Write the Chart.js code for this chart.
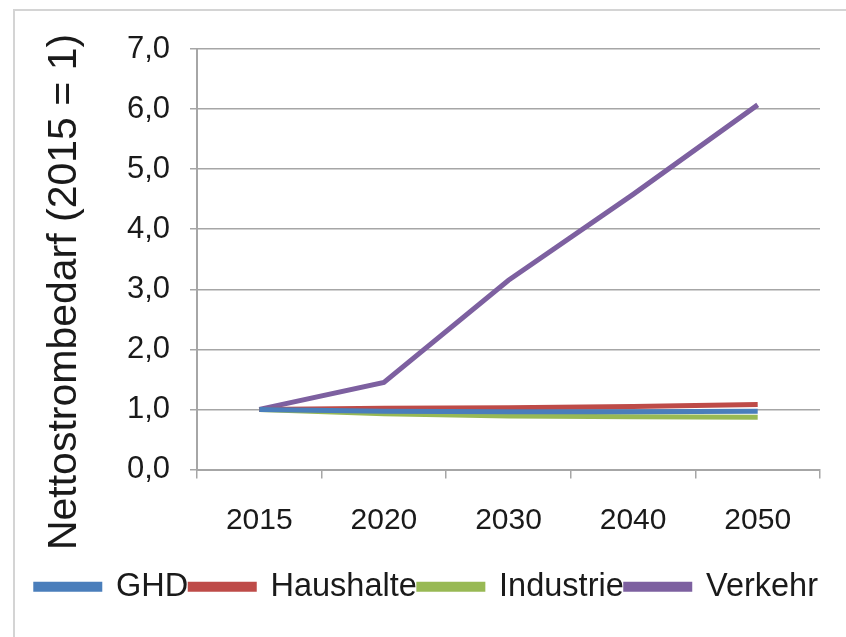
<!DOCTYPE html>
<html>
<head>
<meta charset="utf-8">
<script src="https://cdn.jsdelivr.net/npm/chart.js@4"></script>
<style>
  body { margin: 0; background: #fff; }
  #wrap { width: 846px; height: 637px; }
</style>
</head>
<body>
<div id="wrap"><canvas id="myChart" width="846" height="637"></canvas></div>
<script>
Chart.defaults.font.family = "'Liberation Sans', Arial, sans-serif";
Chart.defaults.color = "#1a1a1a";

const years = ['2015', '2020', '2030', '2040', '2050'];
const ghd = [1.0, 0.97, 0.96, 0.96, 0.97];
const haushalte = [1.0, 1.02, 1.03, 1.05, 1.08];
const industrie = [1.0, 0.93, 0.89, 0.88, 0.87];
const verkehr = [1.0, 1.45, 3.15, 4.58, 6.07];
const yTicks = [0, 1, 2, 3, 4, 5, 6, 7];
const yTitle = 'Nettostrombedarf (2015 = 1)';

function series(label, values, color) {
  return {
    label: label,
    data: values,
    borderColor: color,
    backgroundColor: color,
    borderWidth: 5,
    pointRadius: 0,
    tension: 0,
    fill: false
  };
}

// light frame round the picture (left and top edges only show)
const frame = {
  id: 'frame',
  beforeDraw(chart) {
    const c = chart.ctx;
    c.save();
    c.strokeStyle = '#d4d4d4';
    c.lineWidth = 2;
    c.beginPath();
    c.moveTo(14, 700);
    c.lineTo(14, 10);
    c.lineTo(900, 10);
    c.stroke();
    c.restore();
  }
};

// the y title is longer than the axis, so it is drawn by hand
const sideTitle = {
  id: 'sideTitle',
  afterDraw(chart) {
    const c = chart.ctx;
    c.save();
    c.translate(65, 292);
    c.rotate(-Math.PI / 2);
    c.font = "41px 'Liberation Sans', Arial, sans-serif";
    c.fillStyle = '#1a1a1a';
    c.textAlign = 'center';
    c.textBaseline = 'middle';
    c.fillText(yTitle, 0, 0);
    c.restore();
  }
};

const myChart = new Chart(document.getElementById('myChart'), {
  type: 'line',
  data: {
    labels: years,
    datasets: [
      series('GHD', ghd, '#4a7ebb'),
      series('Haushalte', haushalte, '#be4b48'),
      series('Industrie', industrie, '#98b954'),
      series('Verkehr', verkehr, '#7d60a0')
    ]
  },
  options: {
    responsive: false,
    animation: false,
    layout: { padding: { left: 0, right: 26, top: 49, bottom: 24 } },
    plugins: {
      legend: {
        position: 'bottom',
        align: 'end',
        labels: {
          boxWidth: 64,
          boxHeight: 5,
          padding: 2,
          color: '#1a1a1a',
          font: { size: 32.5 }
        }
      },
      tooltip: { enabled: false }
    },
    scales: {
      x: {
        offset: true,
        afterFit(axis) { axis.height += 6; },
        grid: {
          offset: true,
          drawOnChartArea: false,
          drawTicks: true,
          tickLength: 9,
          color: '#a6a6a6',
          lineWidth: 1.5
        },
        border: { color: '#a6a6a6', width: 2 },
        ticks: {
          padding: 24,
          color: '#1a1a1a',
          font: { size: 30 }
        }
      },
      y: {
        min: 0,
        max: 7,
        afterFit(axis) { axis.width = 197; },
        afterBuildTicks(axis) {
          axis.ticks = yTicks.map(v => ({ value: v }));
        },
        grid: {
          color: '#a6a6a6',
          lineWidth: 1.5,
          tickLength: 7
        },
        border: { color: '#a6a6a6', width: 2 },
        ticks: {
          padding: 20,
          color: '#1a1a1a',
          font: { size: 31 },
          callback: v => v.toFixed(1).replace('.', ',')
        }
      }
    }
  },
  plugins: [frame, sideTitle]
});
</script>
</body>
</html>
